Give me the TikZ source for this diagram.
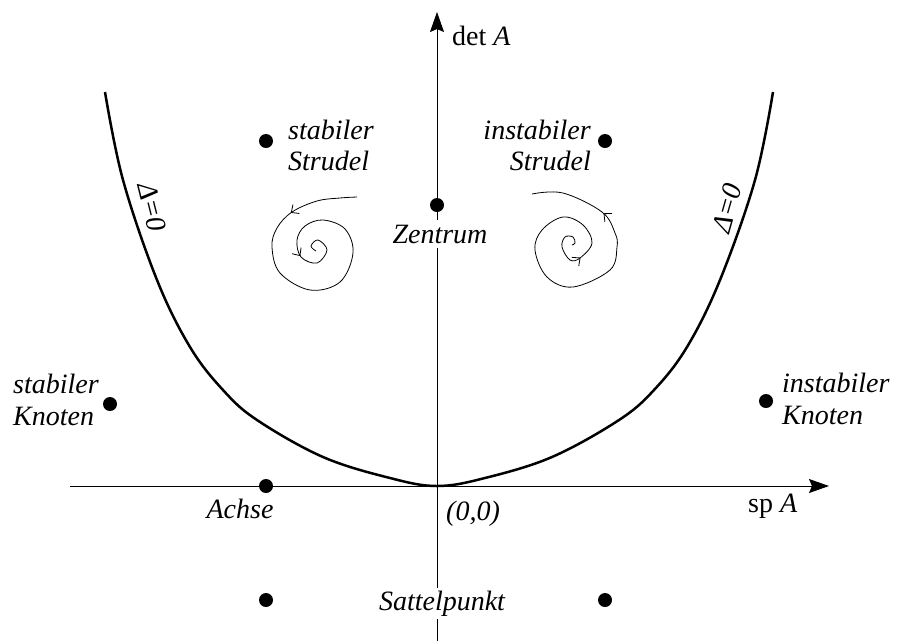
\documentclass[tikz,border=0pt]{standalone}
\usepackage{fontspec}
\setmainfont{Liberation Serif}
\usetikzlibrary{arrows.meta,decorations.markings}
\begin{document}
\begin{tikzpicture}[x=1pt,y=-1pt,
  lbl/.style={font=\fontsize{28}{31}\selectfont\itshape, inner sep=0pt},
  axlbl/.style={font=\fontsize{28}{31}\selectfont, inner sep=0pt},
  dot/.style={circle, fill=black, minimum size=14pt, inner sep=0pt},
  axisline/.style={line width=1pt, -{Stealth[length=20pt,width=14pt,inset=3pt]}},
  curveline/.style={line width=2.5pt},
  barb/.tip={Straight Barb[length=6pt,width=11pt]},
]
\useasboundingbox (0,0) rectangle (897,641);

% axes
\coordinate (xl) at (70,486);
\coordinate (xr) at (829,486);
\coordinate (yb) at (437,641);
\coordinate (yt) at (437,12);
\draw[axisline] (xl) -- (xr);
\draw[axisline] (yb) -- (yt);

% Delta = 0 curve
\draw[curveline] plot[smooth, tension=0.6] coordinates {
 (105,92) (123,180) (157,280) (190,347) (223,390) (257,420) (323,457) (390,478) (437,486)
 (485,478) (552,457) (619,420) (654,390) (687,347) (720,280) (755,180) (773,92)};

% left spiral (stable)
\draw[line width=0.8pt, postaction={decorate},
  decoration={markings, mark=at position 0.17 with {\arrow{barb}},
                        mark=at position 0.835 with {\arrow{barb}}}]
  plot[smooth, tension=0.6] coordinates {
  (357,197) (340,198) (317,201) (292,212) (277,228) (272,247) (280,273) (310,290)
  (340,282) (353,253) (345,229) (323,220) (305,226) (297,240) (301,257) (317,263)
  (327,250) (318,240) (311,246) (316,251)};

% right spiral (unstable)
\draw[line width=0.8pt, postaction={decorate},
  decoration={markings, mark=at position 0.14 with {\arrow{barb}},
                        mark=at position 0.81 with {\arrow{barb}}}]
  plot[smooth, tension=0.6] coordinates {
  (572,245) (575,243) (573,237) (565,237) (562,247) (570,260) (580,258) (592,243)
  (583,225) (563,217) (542,230) (535,250) (547,277) (573,287) (610,270) (617,247)
  (615,233) (602,212) (563,193) (532,194)};

% dots
\node[dot] (sS) at (266,141) {};
\node[dot] (iS) at (605,141) {};
\node[dot] (Z) at (437,205) {};
\node[dot] (sK) at (110,404) {};
\node[dot] (iK) at (766,401) {};
\node[dot] (Ac) at (266,486) {};
\node[dot] (Sa1) at (266,600) {};
\node[dot] (Sa2) at (605,600) {};

% labels
\node[lbl, anchor=base west] (sS1) at (288,139) {stabiler};
\node[lbl, anchor=base west] (sS2) at (288,170) {Strudel};
\node[lbl, anchor=base east] (iS1) at (591,139) {instabiler};
\node[lbl, anchor=base east] (iS2) at (591,170) {Strudel};
\node[lbl, anchor=base west] (sK1) at (13,393) {stabiler};
\node[lbl, anchor=base west] (sK2) at (13,425) {Knoten};
\node[lbl, anchor=base west] (iK1) at (782,392) {instabiler};
\node[lbl, anchor=base west] (iK2) at (782,424) {Knoten};
\node[lbl, anchor=base, fill=white, inner xsep=1pt, inner ysep=5pt] (Zl) at (440,243) {Zentrum};
\node[lbl, anchor=base] (Acl) at (240,518) {Achse};
\node[lbl, anchor=base west] (O) at (446,520) {(0,0)};
\node[lbl, anchor=base, fill=white, inner xsep=1pt, inner ysep=3pt] (Sal) at (442,610) {Sattelpunkt};
\node[axlbl, anchor=base west] (detA) at (452,45) {det \textit{A}};
\node[axlbl, anchor=base west] (spA) at (748,512) {sp \textit{A}};
\node[lbl, rotate=-76] (D1) at (152,207) {Δ=0};
\node[lbl, rotate=74] (D2) at (727,208) {Δ=0};
\end{tikzpicture}
\end{document}
